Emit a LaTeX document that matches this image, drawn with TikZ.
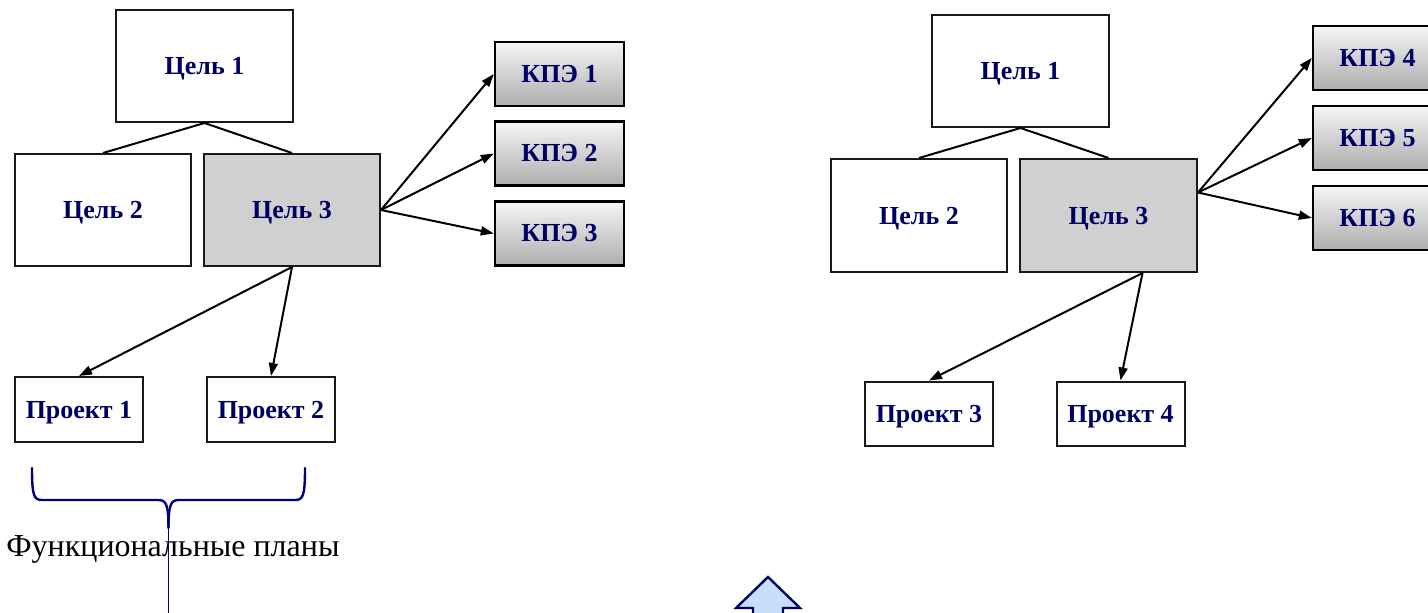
\documentclass[tikz,border=0pt]{standalone}
\usepackage{fontspec}
\setmainfont{Liberation Serif}
\usetikzlibrary{arrows.meta,calc}
\definecolor{txtnavy}{RGB}{0,0,100}
\definecolor{bracenavy}{RGB}{0,0,128}
\definecolor{goalgray}{RGB}{208,208,208}
\definecolor{arrowblue}{RGB}{198,222,250}
\tikzset{
  goalbox/.style={draw=black!90, line width=2pt, fill=white, minimum width=177pt, minimum height=112pt, inner sep=0pt,
    text depth=0pt, font=\fontsize{26}{30}\selectfont\bfseries, text=txtnavy},
  goalsel/.style={goalbox, fill=goalgray},
  projbox/.style={draw=black!90, line width=2pt, fill=white, minimum width=128pt, minimum height=65pt, inner sep=0pt,
    text depth=0pt, font=\fontsize{26}{30}\selectfont\bfseries, text=txtnavy},
  kpebox/.style={draw=black, line width=2.4pt, top color=white!96!black, bottom color=black!32, minimum width=129pt, minimum height=64pt, inner sep=0pt,
    font=\fontsize{26}{30}\selectfont\bfseries, text=txtnavy},
  link/.style={line width=2pt, draw=black},
  arr/.style={line width=2pt, draw=black, -{Triangle[length=13pt,width=9pt]}},
  bracepath/.style={line width=2.4pt, draw=bracenavy, line cap=round},
}
\begin{document}
\begin{tikzpicture}[x=1pt,y=-1pt]
\useasboundingbox (0,0) rectangle (1428,613);
\clip (0,0) rectangle (1428,613);
\fill[white] (0,0) rectangle (1428,613);

% ---------- left tree ----------
\node[goalbox] (lc1) at (204.5,66) {Цель 1};
\node[goalbox, minimum width=176pt] (lc2) at (103,210) {Цель 2};
\node[goalsel, minimum width=176pt] (lc3) at (292,210) {Цель 3};
\node[projbox] (lp1) at (79,409.5) {Проект 1};
\node[projbox] (lp2) at (271,409.5) {Проект 2};
\node[kpebox] (k1) at (559.5,74) {КПЭ 1};
\node[kpebox] (k2) at (559.5,153.5) {КПЭ 2};
\node[kpebox] (k3) at (559.5,233.5) {КПЭ 3};

\draw[link] (lc1.south) -- (lc2.north);
\draw[link] (lc1.south) -- (lc3.north);
\draw[arr] (lc3.east) -- (k1.west);
\draw[arr] (lc3.east) -- (k2.west);
\draw[arr] (lc3.east) -- (k3.west);
\draw[arr] (lc3.south) -- (lp1.north);
\draw[arr] (lc3.south) -- (lp2.north);

% ---------- right tree ----------
\node[goalbox] (rc1) at (1020.5,71) {Цель 1};
\node[goalbox, minimum width=176pt, minimum height=113pt] (rc2) at (919,215.5) {Цель 2};
\node[goalsel, minimum height=113pt] (rc3) at (1108.5,215.5) {Цель 3};
\node[projbox, minimum height=64pt] (rp3) at (929,413.5) {Проект 3};
\node[projbox, minimum height=64pt] (rp4) at (1120.5,413.5) {Проект 4};
\node[kpebox] (k4) at (1377.5,58) {КПЭ 4};
\node[kpebox] (k5) at (1377.5,138) {КПЭ 5};
\node[kpebox] (k6) at (1377.5,218) {КПЭ 6};

\coordinate (ro) at ($(rc3.north east)!0.3!(rc3.south east)$);
\coordinate (rs) at ($(rc3.south west)!0.69!(rc3.south east)$);
\draw[link] (rc1.south) -- (rc2.north);
\draw[link] (rc1.south) -- (rc3.north);
\draw[arr] (ro) -- (k4.west);
\draw[arr] (ro) -- (k5.west);
\draw[arr] (ro) -- (k6.west);
\draw[arr] (rs) -- (rp3.north);
\draw[arr] (rs) -- (rp4.north);

% ---------- brace under projects ----------
\coordinate (bl) at (32,468);
\coordinate (br) at (305,468);
\coordinate (bt) at (168.5,528);
\draw[bracepath] (bl) .. controls (32,496) and (34,500) .. (42,500) -- (158,500)
  .. controls (166,500) and (168.5,504) .. (bt);
\draw[bracepath] (br) .. controls (305,496) and (303,500) .. (295,500) -- (179,500)
  .. controls (171,500) and (168.5,504) .. (bt);
\coordinate (bend) at (168.5,613);
\draw[bracenavy, line width=1pt] (bt) -- (bend);

\node[font=\fontsize{32}{36}\selectfont, text=black] (plans) at (173,549) {Функциональные планы};

% ---------- block arrow ----------
\coordinate (tip) at (768,577);
\draw[draw=txtnavy, fill=arrowblue, line width=2.4pt, line join=miter]
  (tip) -- (800,608) -- (783,608) -- (783,625) -- (753,625) -- (753,608) -- (736,608) -- cycle;
\end{tikzpicture}
\end{document}
